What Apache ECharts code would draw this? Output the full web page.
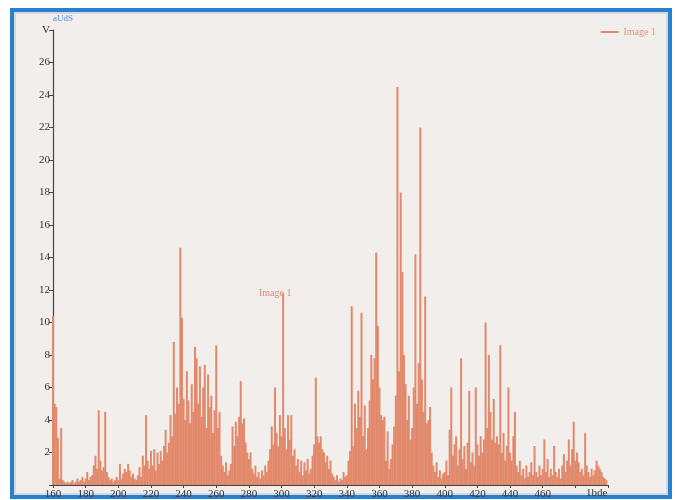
<!DOCTYPE html>
<html>
<head>
<meta charset="utf-8">
<script src="https://cdn.jsdelivr.net/npm/echarts@6/dist/echarts.min.js"></script>
<style>
html,body{margin:0;padding:0;background:#ffffff;}
#chart{width:675px;height:500px;}
</style>
</head>
<body>
<div id="chart"></div>
<script>
// x positions start and step (categories along x)
const xStart = 160;
const xStep = 1;
// values, V, in blocks of 20 units along x
const v160 = [10.4,5.0,4.8,2.9,0.4,3.5,0.3,0.2,0.1,0.2,0.1,0.2,0.3,0.1,0.2,0.4,0.2,0.3,0.5,0.2];
const v180 = [0.4,0.8,0.3,0.5,0.6,1.2,1.8,1.0,4.6,1.5,0.9,1.1,4.5,0.8,0.5,0.3,0.4,0.2,0.3,0.5];
const v200 = [0.3,1.3,0.4,0.7,1.0,0.8,1.3,0.9,0.5,0.7,0.4,0.3,0.6,1.1,0.5,1.8,1.2,4.3,1.5,1.0];
const v220 = [2.1,1.2,2.2,0.9,2.0,1.3,2.1,1.5,2.4,3.4,2.0,2.6,4.3,3.0,8.8,4.4,6.0,5.0,14.6,10.3];
const v240 = [5.3,4.0,7.0,5.2,3.8,6.2,4.5,8.5,7.8,5.0,7.3,4.2,6.0,7.4,3.5,6.8,4.8,5.5,3.2,4.6];
const v260 = [8.6,3.5,4.5,1.8,1.2,0.8,1.4,0.6,0.9,1.3,3.6,2.4,3.9,3.0,4.2,6.4,3.8,4.1,2.6,2.0];
const v280 = [1.6,2.0,1.0,0.7,1.2,0.5,0.8,0.4,0.9,0.6,1.2,0.8,1.5,2.2,3.6,2.5,6.0,3.2,2.4,4.3];
const v300 = [3.0,11.8,3.5,2.2,4.3,2.8,4.3,1.8,2.2,1.2,1.6,0.8,1.5,0.6,1.4,0.9,1.6,0.7,1.0,1.8];
const v320 = [2.5,6.6,3.0,2.6,3.0,2.2,2.0,1.4,1.8,1.0,1.5,0.7,0.5,0.3,0.6,0.2,0.4,0.3,0.8,0.5];
const v340 = [0.6,1.5,2.1,11.0,2.4,5.0,3.5,5.8,4.2,10.6,3.0,4.9,2.2,3.5,5.2,8.0,6.5,7.8,14.3,9.8];
const v360 = [6.0,4.3,4.0,4.2,1.5,3.3,1.0,1.6,2.5,3.6,5.5,24.5,7.0,18.0,13.1,8.0,6.2,4.0,5.5,2.8];
const v380 = [3.5,6.0,14.2,5.0,7.5,22.0,6.5,4.5,11.6,3.8,4.0,4.8,2.0,1.2,0.8,1.4,0.5,0.9,0.4,0.7];
const v400 = [0.8,1.5,0.6,3.4,6.0,1.8,2.5,3.0,1.2,2.2,7.8,1.6,2.4,1.0,2.6,5.8,1.4,2.0,1.2,6.0];
const v420 = [2.5,1.8,3.0,2.0,2.8,10.0,3.5,8.0,4.5,2.8,5.3,2.6,3.0,2.5,8.6,2.0,3.2,1.5,2.4,6.0];
const v440 = [2.0,1.5,3.0,4.5,1.2,0.8,1.5,0.6,1.0,0.4,1.2,0.5,0.8,1.4,0.6,2.4,0.8,0.5,1.2,0.6];
const v460 = [1.0,2.8,0.8,1.6,0.5,1.0,0.6,2.4,0.8,0.5,1.0,0.4,1.2,1.9,0.8,1.5,2.8,1.2,2.2,3.9];
const v480 = [1.5,2.0,1.4,0.8,1.0,0.6,3.2,1.2,0.8,0.5,1.0,0.6,0.9,1.5,1.2,1.0,0.8,0.5,0.4,0.3,0];

const seriesName = 'Image 1';
const yUnit = 'V';
const xUnit = '1bde';
const topNote = 'aUdS';
const notePoint = [301, 11.8];

const values = [].concat(v160,v180,v200,v220,v240,v260,v280,v300,v320,v340,v360,v380,v400,v420,v440,v460,v480);
const data = values.map((v, i) => [xStart + i * xStep, v]);

const serif = '"Liberation Serif","DejaVu Serif",serif';
const chart = echarts.init(document.getElementById('chart'));
chart.setOption({
  backgroundColor: '#ffffff',
  animation: false,
  graphic: [
    {type:'rect', z:-10, shape:{x:12, y:10, width:658, height:487}, style:{fill:'#f1eeeb', stroke:'#2b7fcf', lineWidth:4}},
    {type:'rect', z:-9, shape:{x:15, y:13, width:652, height:481}, style:{fill:'none', stroke:'#c9d3dc', lineWidth:1.5}}
  ],
  grid: {left: 53, right: 67, top: 30, bottom: 14, containLabel: false},
  legend: {
    show: true, right: 14, top: 22, icon: 'rect', itemWidth: 18, itemHeight: 2, itemGap: 4,
    textStyle: {color: '#e0957c', fontFamily: serif, fontSize: 10},
    data: [seriesName]
  },
  xAxis: {
    type: 'value', min: 160, max: 500, interval: 20,
    name: xUnit, nameLocation: 'end', nameGap: -22,
    nameTextStyle: {color: '#333', fontFamily: serif, fontSize: 11, align: 'left', verticalAlign: 'top', padding: [3,0,0,0]},
    axisLine: {lineStyle: {color: '#444', width: 1.2}},
    axisTick: {show: true, length: 3, lineStyle: {color: '#444'}},
    axisLabel: {color: '#333', fontFamily: serif, fontSize: 11, margin: 4,
      formatter: v => (v >= 480 ? '' : String(v))},
    splitLine: {show: false}
  },
  yAxis: {
    type: 'value', min: 0, max: 28, interval: 2,
    name: topNote, nameLocation: 'end', nameGap: 7,
    nameTextStyle: {color: '#4d8fdc', fontFamily: serif, fontSize: 9, align: 'left'},
    axisLine: {show: true, lineStyle: {color: '#444', width: 1.2}},
    axisTick: {show: true, length: 4, lineStyle: {color: '#444'}},
    axisLabel: {color: '#333', fontFamily: serif, fontSize: 11, margin: 3,
      formatter: v => (v === 0 ? '' : (v === 28 ? yUnit : String(v)))},
    splitLine: {show: false}
  },
  series: [{
    name: seriesName, type: 'bar', data: data, barWidth: 2, barGap: '0%',
    itemStyle: {color: '#e2896c'},
    markPoint: {
      symbol: 'circle', symbolSize: 1, itemStyle: {color: 'rgba(0,0,0,0)'},
      label: {show: true, position: 'top', distance: 0, offset: [-8, 6], formatter: seriesName,
        color: '#d48f7a', fontFamily: serif, fontSize: 10},
      data: [{coord: notePoint}]
    }
  }]
});
</script>
</body>
</html>
